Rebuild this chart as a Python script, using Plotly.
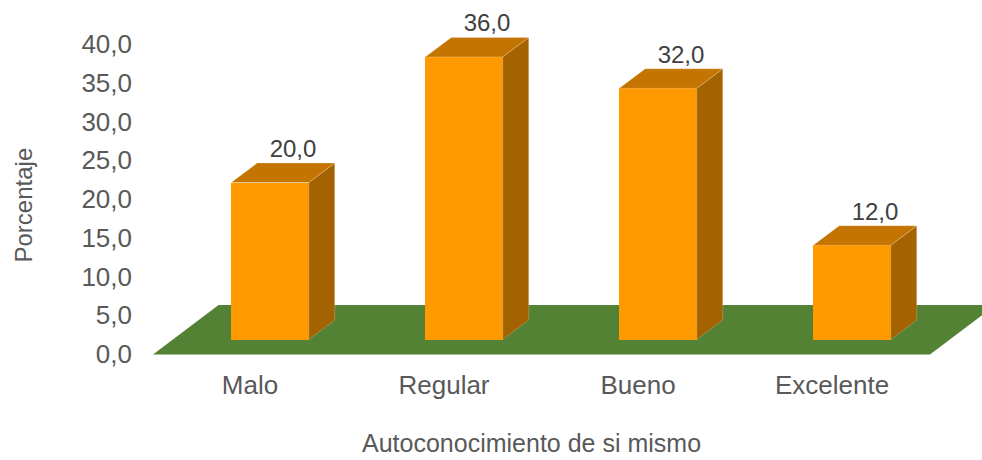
import plotly.graph_objects as go

# ---- data ----
categories = ["Malo", "Regular", "Bueno", "Excelente"]
values = [20.0, 36.0, 32.0, 12.0]
y_ticks = [0, 5, 10, 15, 20, 25, 30, 35, 40]
y_tick_labels = ["0,0", "5,0", "10,0", "15,0", "20,0", "25,0", "30,0", "35,0", "40,0"]
x_title = "Autoconocimiento de si mismo"
y_title = "Porcentaje"

# ---- styling / geometry (pseudo-3D projection) ----
W, H = 982, 460
ML, MR, MT, MB = 150, 0, 5, 100
PX_X = 194.0       # px per category step
PX_Y = 7.75        # px per value unit
X0_PX = 250.0      # px of first category tick
Y0_PX = 354.0      # px of value 0

plot_w = W - ML - MR
plot_h = H - MT - MB
x_range = [(ML - X0_PX) / PX_X, (W - MR - X0_PX) / PX_X]
y_range = [(Y0_PX - (H - MB)) / PX_Y, (Y0_PX - MT) / PX_Y]

FRONT_OFF = 20 / PX_X      # bar front centre offset from tick
BAR_W = 77.5 / PX_X
DX = 26 / PX_X             # depth shift
DY = 19.5 / PX_Y
BASE = 14.5 / PX_Y         # front face base above 0
SCALE = 7.85 / PX_Y        # perspective scale of front face

C_FRONT = "#FF9900"
C_TOP = "#C47400"
C_SIDE = "#A46300"
C_FLOOR = "#548235"
FONT = "Liberation Sans, Arial, sans-serif"
C_AXIS = "#595959"
C_LABEL = "#404040"

idx = list(range(len(categories)))
xc = [i + FRONT_OFF for i in idx]
tops = [BASE + v * SCALE for v in values]

fig = go.Figure()

# floor (main axes, drawn below the overlay axes)
fx = [(153 - X0_PX) / PX_X, (930 - X0_PX) / PX_X]
floor_dx = 65.6 / PX_X
floor_top = (Y0_PX - 305) / PX_Y
floor_bot = (Y0_PX - 354.5) / PX_Y
fig.add_trace(go.Scatter(
    x=[fx[0], fx[1], fx[1] + floor_dx, fx[0] + floor_dx, fx[0]],
    y=[floor_bot, floor_bot, floor_top, floor_top, floor_bot],
    fill="toself", fillcolor=C_FLOOR, mode="lines", line=dict(width=0),
    hoverinfo="skip", showlegend=False))

# front faces (overlay axes)
fig.add_trace(go.Bar(x=xc, y=[t - BASE for t in tops], base=BASE, width=BAR_W,
                     marker=dict(color=C_FRONT, line=dict(width=0)),
                     xaxis="x2", yaxis="y2",
                     hoverinfo="skip", showlegend=False))

# side faces and top faces
sx, sy, tx, ty = [], [], [], []
for c, t in zip(xc, tops):
    xl, xr = c - BAR_W / 2, c + BAR_W / 2
    sx += [xr, xr, xr + DX, xr + DX, xr, None]
    sy += [BASE, t, t + DY, BASE + DY, BASE, None]
    tx += [xl, xr, xr + DX, xl + DX, xl, None]
    ty += [t, t, t + DY, t + DY, t, None]
fig.add_trace(go.Scatter(x=sx, y=sy, fill="toself", fillcolor=C_SIDE, mode="lines",
                         line=dict(width=0.6, color="rgba(255,255,255,0.35)"),
                         xaxis="x2", yaxis="y2",
                         hoverinfo="skip", showlegend=False))
fig.add_trace(go.Scatter(x=tx, y=ty, fill="toself", fillcolor=C_TOP, mode="lines",
                         line=dict(width=0.6, color="rgba(255,255,255,0.35)"),
                         xaxis="x2", yaxis="y2",
                         hoverinfo="skip", showlegend=False))

# data labels
fig.add_trace(go.Scatter(
    x=[c + DX / 2 + 10 / PX_X for c in xc],
    y=[t + DY + 12 / PX_Y for t in tops],
    mode="text", text=[f"{v:.1f}".replace(".", ",") for v in values],
    textposition="middle center", cliponaxis=False,
    textfont=dict(family=FONT, size=24, color=C_LABEL),
    xaxis="x2", yaxis="y2",
    hoverinfo="skip", showlegend=False))

def px_to_paper(px, py):
    return (px - ML) / plot_w, (H - MB - py) / plot_h

ax, ay = px_to_paper(22.5, 205)
fig.add_annotation(x=ax, y=ay, xref="paper", yref="paper", text=y_title, textangle=-90,
                   xanchor="center", yanchor="middle",
                   showarrow=False, font=dict(family=FONT, size=24, color=C_AXIS))
bx, by = px_to_paper(531, 443)
fig.add_annotation(x=bx, y=by, xref="paper", yref="paper", text=x_title,
                   xanchor="center", yanchor="middle",
                   showarrow=False, font=dict(family=FONT, size=25, color=C_AXIS))

fig.update_layout(
    width=W, height=H, margin=dict(l=ML, r=MR, t=MT, b=MB),
    paper_bgcolor="white", plot_bgcolor="rgba(0,0,0,0)", bargap=0,
    xaxis=dict(range=x_range, tickvals=idx, ticktext=categories, showgrid=False,
               zeroline=False, showline=False, ticks="", ticklabelstandoff=7,
               tickfont=dict(family=FONT, size=26, color=C_AXIS), fixedrange=True),
    yaxis=dict(range=y_range, tickvals=y_ticks, ticktext=y_tick_labels, showgrid=False,
               zeroline=False, showline=False, ticks="", ticklabelstandoff=17,
               tickfont=dict(family=FONT, size=26, color=C_AXIS), fixedrange=True),
    xaxis2=dict(range=x_range, overlaying="x", visible=False, fixedrange=True),
    yaxis2=dict(range=y_range, overlaying="y", visible=False, fixedrange=True),
)

fig.write_html("out.html", config={"displayModeBar": False},
               post_script="document.body.style.margin='0px';document.body.style.overflow='hidden';")
